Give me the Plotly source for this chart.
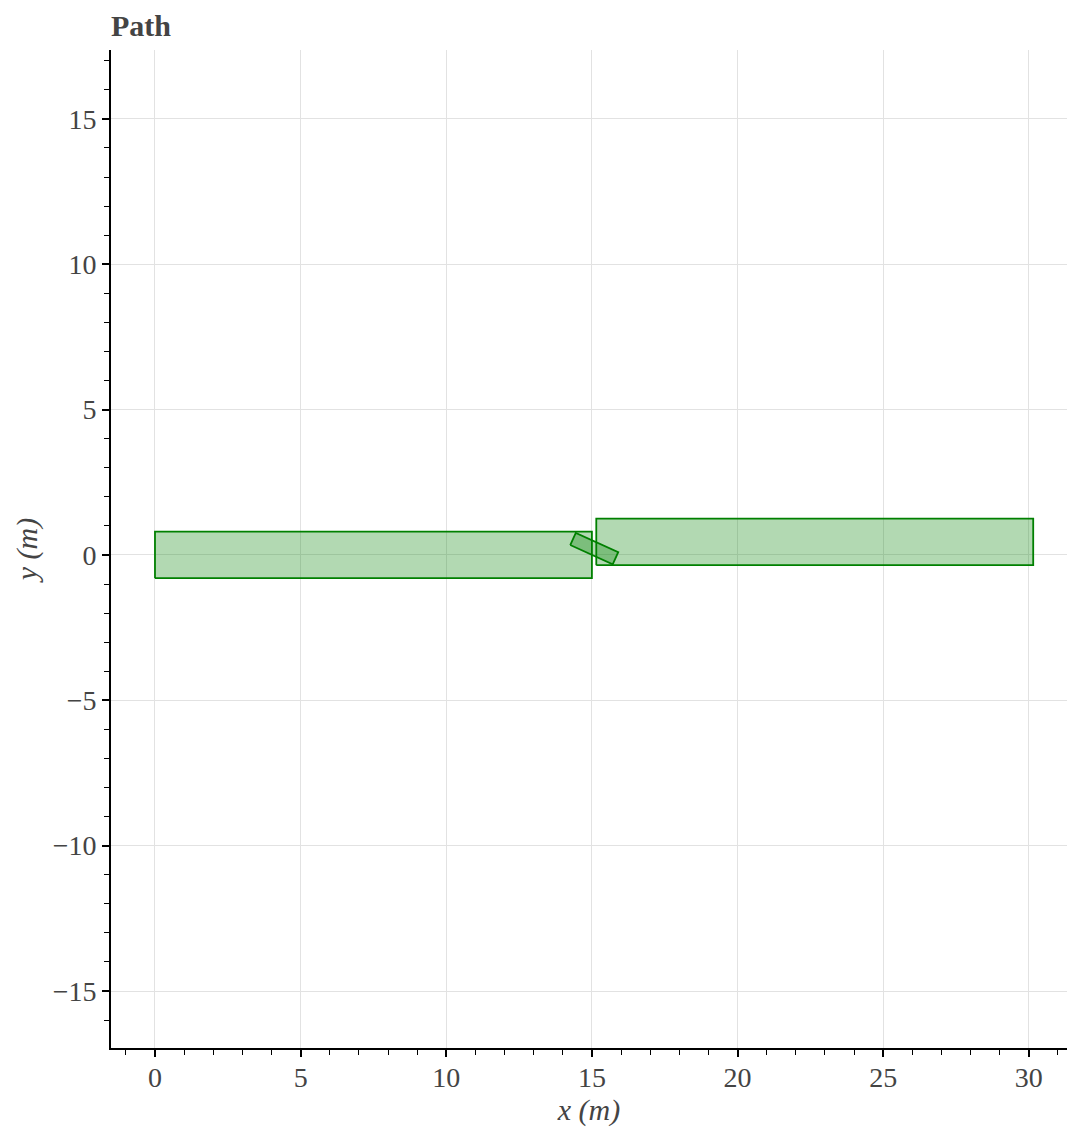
import numpy as np
import plotly.graph_objects as go

# Axis-aligned lane segments (x0, x1, y0, y1) in metres
seg_x0 = [0.0, 15.15]
seg_x1 = [15.0, 30.15]
seg_y0 = [-0.8, -0.35]
seg_y1 = [0.8, 1.25]

# Rotated vehicle footprint: centre, length, width, heading (deg)
car_cx = [15.08]
car_cy = [0.22]
car_len = [1.6]
car_wid = [0.46]
car_heading = [-24.4]

x_range = [-1.51, 31.31]
y_range = [-16.96, 17.37]

FILL = "rgba(0,128,0,0.3)"
EDGE = "green"
SERIF = "Liberation Serif, Times New Roman, serif"
TXT = "#444444"

fig = go.Figure()

for x0, x1, y0, y1 in zip(seg_x0, seg_x1, seg_y0, seg_y1):
    fig.add_trace(go.Scatter(
        x=[x0, x1, x1, x0, x0], y=[y0, y0, y1, y1, y0],
        mode="lines", fill="toself", fillcolor=FILL,
        line=dict(color=EDGE, width=1.8), hoverinfo="skip", showlegend=False))

for cx, cy, L, W, h in zip(car_cx, car_cy, car_len, car_wid, car_heading):
    t = np.deg2rad(h)
    ux, uy = np.cos(t), np.sin(t)
    vx, vy = -np.sin(t), np.cos(t)
    local = [(-L / 2, -W / 2), (L / 2, -W / 2), (L / 2, W / 2), (-L / 2, W / 2), (-L / 2, -W / 2)]
    px = [cx + a * ux + b * vx for a, b in local]
    py = [cy + a * uy + b * vy for a, b in local]
    fig.add_trace(go.Scatter(
        x=px, y=py, mode="lines", fill="toself", fillcolor=FILL,
        line=dict(color=EDGE, width=1.8), hoverinfo="skip", showlegend=False))

axis_common = dict(
    showgrid=True, gridcolor="#e2e2e2", gridwidth=1.2,
    zeroline=False, showline=True, linecolor="black", linewidth=1.7,
    ticks="outside", ticklen=7, tickwidth=1.5, tickcolor="black",
    dtick=5, tick0=0,
    minor=dict(dtick=1, ticks="outside", ticklen=5, tickwidth=1.3, tickcolor="black", showgrid=False),
    tickfont=dict(family=SERIF, size=28, color=TXT),
)

fig.update_xaxes(range=x_range, title=dict(text="<i>x (m)</i>", font=dict(family=SERIF, size=30, color=TXT), standoff=6),
                 ticklabelstandoff=-3, **axis_common)
fig.update_yaxes(range=y_range, title=dict(text="<i>y (m)</i>", font=dict(family=SERIF, size=30, color=TXT), standoff=6),
                 tickformat="d", **axis_common)

fig.update_layout(
    width=1067, height=1133,
    margin=dict(l=111, r=0, t=50, b=85),
    plot_bgcolor="white", paper_bgcolor="white",
    separators=".\u2212",
    title=dict(text="<b>Path</b>", x=111 / 1067, xanchor="left", xref="container",
               y=1 - 25 / 1133, yanchor="middle", yref="container",
               font=dict(family=SERIF, size=30, color=TXT)),
)

fig.write_html("out.html")
